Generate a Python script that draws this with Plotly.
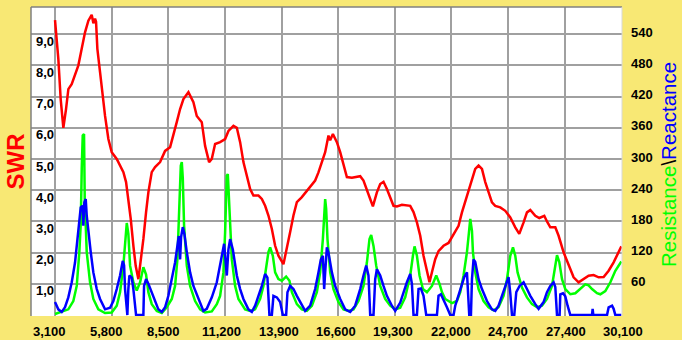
import plotly.graph_objects as go

# ---- data (frequency in kHz) ----
swr_freq = [3100, 3259, 3370, 3466, 3497, 3625, 3736, 3895, 4054, 4213, 4372, 4531, 4690, 4849, 4929, 5008, 5056,
            5119, 5247, 5374, 5485, 5644, 5803, 6042, 6201, 6360, 6487, 6598, 6710, 6837, 6948, 7075, 7187, 7313,
            7441, 7552, 7711, 7870, 8109, 8347, 8586, 8745, 8904, 9063, 9222, 9460, 9698, 9858, 10096, 10255, 10446,
            10573, 10732, 10971, 11209, 11368, 11607, 11767, 11925, 12082, 12244, 12402, 12559, 12798, 12960, 13117,
            13274, 13437, 13594, 13751, 13990, 14152, 14310, 14467, 14629, 14868, 15106, 15345, 15502, 15659, 15822,
            15979, 16137, 16218, 16347, 16537, 16695, 16852, 17014, 17253, 17491, 17649, 17806, 17968, 18126, 18254,
            18445, 18603, 18760, 18922, 19080, 19237, 19398, 19638, 20034, 20191, 20353, 20511, 20668, 20830, 20954,
            21069, 21226, 21383, 21622, 21860, 22180, 22338, 22500, 22738, 22977, 23134, 23292, 23454, 23611, 23768,
            23930, 24088, 24326, 24565, 24804, 25042, 25233, 25438, 25600, 25758, 25996, 26187, 26425, 26553, 26712,
            26950, 27108, 27346, 27585, 27823, 28062, 28300, 28538, 28777, 29016, 29254, 29493, 29731, 30051, 30100]
swr_vals = [9.45, 8.2, 6.92, 6.1, 6.0, 6.6, 7.24, 7.4, 7.72, 8.0, 8.53, 9.06, 9.43, 9.62, 9.35, 9.5, 9.4,
            8.53, 7.78, 7.02, 6.38, 5.64, 5.22, 5.0, 4.78, 4.58, 4.26, 3.72, 3.08, 2.21, 1.57, 1.15, 1.7, 2.44,
            3.3, 3.94, 4.58, 4.74, 4.9, 5.26, 5.38, 5.74, 6.18, 6.6, 6.92, 7.14, 6.82, 6.38, 6.18, 5.42, 4.9,
            5.0, 5.48, 5.54, 5.64, 5.9, 6.06, 6.0, 5.54, 4.9, 4.47, 4.04, 3.83, 3.83, 3.72, 3.5,
            3.19, 2.76, 2.22, 1.9, 1.63, 2.12, 2.66, 3.19, 3.62, 3.78, 3.98, 4.15, 4.31, 4.57, 4.9,
            5.22, 5.75, 5.6, 5.8, 5.54, 5.22, 4.79, 4.42, 4.4, 4.42, 4.45, 4.31, 4.04, 3.72, 3.48,
            3.93, 4.2, 4.27, 4.04, 3.78, 3.5, 3.48, 3.53, 3.5, 3.3, 2.97, 2.54, 1.9, 1.37, 1.05,
            1.37, 1.79, 2.05, 2.22, 2.31, 2.65, 2.86, 3.29, 3.82, 4.36, 4.68, 4.79, 4.68, 4.26, 3.93,
            3.61, 3.5, 3.45, 3.34, 3.13, 2.81, 2.6, 2.97, 3.29, 3.37, 3.18, 3.11, 3.18, 3.0, 2.81,
            2.81, 2.54, 2.01, 1.58, 1.21, 1.05, 1.15, 1.26, 1.28, 1.21, 1.22, 1.42, 1.69, 2.14, 2.2]

res_freq = [3100, 3420, 3734, 3973, 4135, 4259, 4326, 4374, 4421, 4483, 4517, 4612, 4770, 4927, 5165, 5485, 5803,
            6043, 6201, 6358, 6453, 6520, 6596, 6678, 6835, 6997, 7155, 7312, 7441, 7550, 7713, 7951, 8190, 8428,
            8667, 8824, 8934, 9029, 9096, 9144, 9191, 9253, 9382, 9540, 9778, 10017, 10255, 10575, 10813, 10971,
            11128, 11209, 11290, 11338, 11414, 11529, 11686, 11844, 12163, 12402, 12640, 12879, 13036, 13198, 13274,
            13356, 13484, 13594, 13751, 13914, 14119, 14276, 14391, 14629, 14868, 15106, 15345, 15583, 15741, 15869,
            15931, 15979, 16026, 16089, 16218, 16375, 16614, 16852, 17091, 17329, 17568, 17806, 17968, 18092, 18173,
            18283, 18412, 18603, 18841, 19080, 19318, 19557, 19795, 20034, 20162, 20239, 20353, 20477, 20639, 20830,
            21069, 21274, 21431, 21546, 21703, 22023, 22261, 22419, 22576, 22738, 22834, 22896, 22977, 23024, 23134,
            23292, 23530, 23768, 24007, 24245, 24483, 24646, 24804, 24932, 25042, 25152, 25361, 25600, 25839, 26077,
            26315, 26553, 26793, 26917, 27031, 27141, 27270, 27427, 27666, 27904, 28143, 28381, 28538, 28701, 28939,
            29097, 29335, 29574, 29812, 30051, 30100]
res_vals = [2, 6, 11, 27, 56, 121, 174, 281, 345, 348, 223, 121, 63, 31, 11, 4, 5,
            18, 44, 95, 146, 177, 156, 95, 63, 47, 63, 92, 78, 44, 21, 8, 4, 15,
            31, 56, 107, 197, 287, 294, 264, 172, 95, 56, 27, 11, 5, 7, 21, 37,
            82, 159, 268, 271, 198, 107, 56, 31, 11, 8, 11, 31, 56, 95, 121,
            130, 114, 82, 69, 66, 74, 66, 44, 21, 11, 8, 18, 44, 82, 146,
            204, 223, 204, 146, 82, 50, 25, 11, 8, 11, 27, 56, 101, 146, 154,
            133, 95, 56, 31, 18, 11, 14, 34, 76, 114, 132, 114, 76, 50, 44,
            56, 76, 60, 44, 31, 23, 27, 44, 76, 121, 159, 185, 162, 121, 82,
            50, 27, 15, 9, 15, 37, 69, 114, 130, 114, 82, 53, 34, 21, 15,
            18, 31, 56, 88, 115, 102, 69, 50, 40, 42, 50, 59, 57, 50, 42,
            40, 46, 63, 85, 101, 103]

reac_freq = [3100, 3257, 3420, 3577, 3734, 3897, 4054, 4164, 4259, 4326, 4421, 4450, 4498, 4564, 4612, 4688, 4803,
             4927, 5089, 5247, 5485, 5724, 5881, 6043, 6201, 6329, 6392, 6439, 6549, 6596, 6644, 6758, 6835, 6964,
             7312, 7345, 7441, 7550, 7713, 7870, 8027, 8190, 8347, 8504, 8667, 8824, 8934, 9000, 9063, 9110, 9191,
             9267, 9382, 9540, 9697, 9935, 10174, 10333, 10575, 10813, 11052, 11161, 11290, 11366, 11448, 11577,
             11767, 11925, 12082, 12320, 12483, 12640, 12798, 12960, 13117, 13226, 13322, 13437, 13513, 13675, 13833,
             13961, 14119, 14181, 14310, 14467, 14629, 14787, 15025, 15264, 15502, 15659, 15774, 15869, 15931, 15979,
             16060, 16137, 16299, 16456, 16695, 16933, 17172, 17410, 17649, 17806, 17935, 18044, 18126, 18283, 18364,
             18445, 18603, 18760, 18922, 19161, 19318, 19557, 19714, 19876, 20034, 20115, 20191, 20353, 20430, 20544,
             20668, 20797, 21307, 21383, 21498, 21622, 21784, 21942, 22099, 22180, 22338, 22500, 22609, 22738, 22800,
             22848, 22929, 22977, 23053, 23134, 23292, 23454, 23692, 23930, 24088, 24245, 24407, 24565, 24722, 24804,
             24885, 24994, 25090, 25247, 25438, 25600, 25758, 25996, 26154, 26392, 26553, 26712, 26869, 26950, 27031,
             27155, 27189, 27317, 27427, 27537, 27666, 28701, 28730, 28763, 29416, 29493, 29655, 29731, 29812, 30100]
reac_vals = [25, 11, 6, 15, 34, 63, 101, 140, 178, 207, 210, 172, 217, 223, 191, 159, 121,
             82, 50, 31, 11, 14, 27, 50, 76, 104, 96, 50, 0, 50, 76, 72, 50, 0,
             0, 56, 69, 60, 44, 25, 11, 6, 15, 37, 69, 101, 133, 152, 107, 150, 169,
             156, 121, 82, 56, 31, 8, 12, 34, 63, 114, 137, 76, 126, 146, 126,
             76, 50, 31, 11, 6, 18, 37, 56, 79, 72, 0, 0, 37, 34, 25,
             0, 0, 44, 56, 50, 37, 25, 8, 18, 50, 82, 107, 114, 50, 82,
             130, 120, 82, 56, 31, 11, 6, 18, 50, 76, 95, 76, 0, 0, 69,
             88, 76, 56, 37, 18, 8, 24, 44, 63, 79, 60, 0, 0, 50, 51,
             37, 0, 0, 37, 40, 30, 15, 0, 0, 18, 37, 56, 73, 82, 30,
             0, 0, 69, 107, 102, 69, 50, 27, 11, 8, 18, 37, 56, 73, 42,
             0, 0, 44, 56, 63, 50, 37, 21, 12, 25, 44, 56, 63, 54, 0,
             0, 40, 42, 36, 18, 0, 0, 12, 0, 0, 15, 18, 12, 0, 0]

x_ticks = [3100, 5800, 8500, 11200, 13900, 16600, 19300, 22000, 24700, 27400, 30100]
x_tick_text = ["3,100", "5,800", "8,500", "11,200", "13,900", "16,600", "19,300", "22,000", "24,700", "27,400", "30,100"]
swr_ticks = [1, 2, 3, 4, 5, 6, 7, 8, 9]
swr_tick_text = ["1,0", "2,0", "3,0", "4,0", "5,0", "6,0", "7,0", "8,0", "9,0"]
ohm_ticks = [60, 120, 180, 240, 300, 360, 420, 480, 540]

# ---- layout geometry ----
W, H = 682, 340
ML, MR, MT, MB = 31, 60, 7, 24
PW, PH = W - ML - MR, H - MT - MB
BG = "#F8E874"
FONT = "Liberation Sans, Arial, sans-serif"
XR = [1955, 30130]
YR = [-0.03, 9.87]

fig = go.Figure()
fig.add_trace(go.Scatter(x=res_freq, y=res_vals, mode="lines", yaxis="y2",
                         line=dict(color="#00FF00", width=2.5), hoverinfo="skip"))
fig.add_trace(go.Scatter(x=reac_freq, y=reac_vals, mode="lines", yaxis="y2",
                         line=dict(color="#0000FF", width=2.5), hoverinfo="skip"))
fig.add_trace(go.Scatter(x=swr_freq, y=swr_vals, mode="lines", yaxis="y",
                         line=dict(color="#FF0000", width=2.5), hoverinfo="skip"))

def px_to_paper_x(px):
    return (px - ML) / PW

def px_to_paper_y(py):
    return (H - MB - py) / PH

ann = []
# left SWR labels, inside plot, below gridlines
for v, t in zip(swr_ticks, swr_tick_text):
    ann.append(dict(x=px_to_paper_x(34), xref="paper", xanchor="left", y=v, yref="y",
                    yanchor="middle", yshift=-7, text=t, showarrow=False,
                    font=dict(family=FONT, size=13, color="black", weight="bold")))
# right ohm labels
for v in ohm_ticks:
    ann.append(dict(x=px_to_paper_x(629), xref="paper", xanchor="left", y=v, yref="y2",
                    yanchor="middle", yshift=2, text=str(v), showarrow=False,
                    font=dict(family=FONT, size=13, color="black", weight="bold")))
# bottom labels
for k, t in enumerate(x_tick_text):
    ann.append(dict(x=px_to_paper_x(49 + 57.4 * k), xref="paper", xanchor="center",
                    y=px_to_paper_y(331.5), yref="paper", yanchor="middle", text=t, showarrow=False,
                    font=dict(family=FONT, size=13, color="black", weight="bold")))
# axis titles
ann.append(dict(x=px_to_paper_x(15), xref="paper", y=px_to_paper_y(161.5), yref="paper",
                xanchor="center", yanchor="middle", textangle=-90, text="SWR", showarrow=False,
                font=dict(family=FONT, size=24, color="#FF0000", weight="bold")))
ann.append(dict(x=px_to_paper_x(669), xref="paper", y=px_to_paper_y(165), yref="paper",
                xanchor="center", yanchor="middle", textangle=-90, showarrow=False,
                text='<span style="color:#00FF00">Resistance</span><span style="color:#000000">\\</span>'
                     '<span style="color:#0000FF">Reactance</span>',
                font=dict(family=FONT, size=20.5)))

shapes = [
    dict(type="line", xref="paper", yref="paper", x0=0, x1=0, y0=0, y1=1, line=dict(color="#808080", width=1.5)),
    dict(type="line", xref="paper", yref="paper", x0=0, x1=1, y0=1, y1=1, line=dict(color="#808080", width=1.5)),
    dict(type="line", xref="paper", yref="paper", x0=1, x1=1, y0=0, y1=1, line=dict(color="#D8D8D8", width=1)),
]

fig.update_layout(
    width=W, height=H, margin=dict(l=ML, r=MR, t=MT, b=MB),
    paper_bgcolor=BG, plot_bgcolor="white", showlegend=False,
    xaxis=dict(range=XR, tickvals=x_ticks, showticklabels=False, ticks="", showgrid=True,
               gridcolor="#A0A0A0", gridwidth=1.5, zeroline=False, showline=False, fixedrange=True),
    yaxis=dict(range=YR, tickvals=swr_ticks, showticklabels=False, ticks="", showgrid=True,
               gridcolor="#A0A0A0", gridwidth=1.5, zeroline=False, showline=False, fixedrange=True),
    yaxis2=dict(range=[YR[0] * 60, YR[1] * 60], overlaying="y", side="right", showticklabels=False,
                showgrid=False, zeroline=False, ticks="", fixedrange=True),
    annotations=ann, shapes=shapes,
)

fig.write_html("out.html")
